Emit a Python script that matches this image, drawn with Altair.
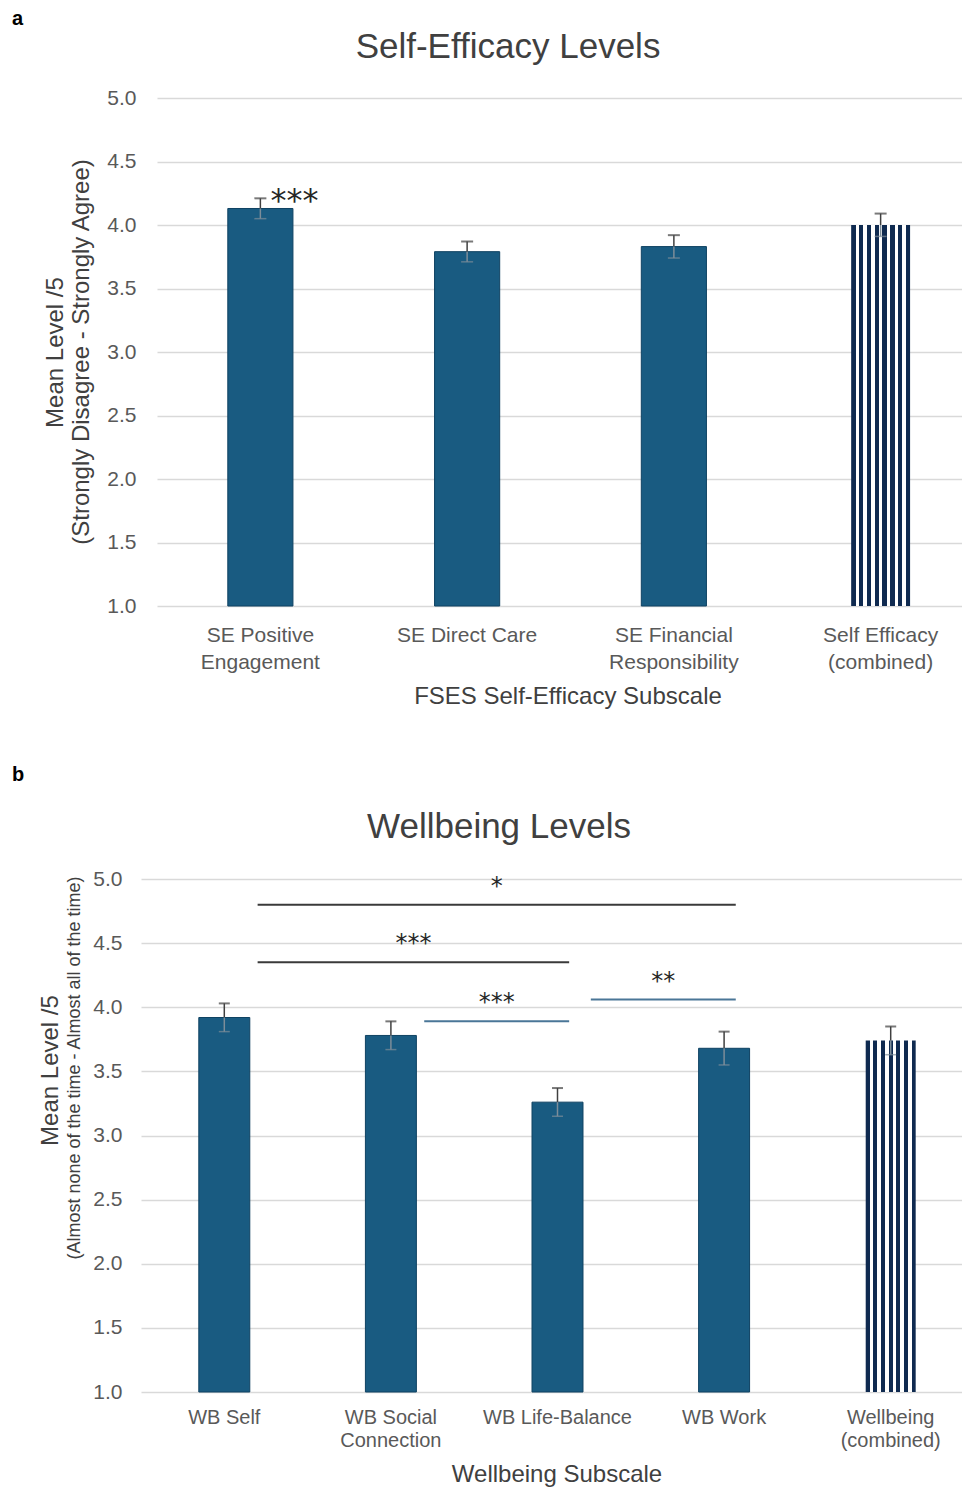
import altair as alt
import pandas as pd

FONT = "Liberation Sans"
STAR_FONT = "DejaVu Sans"

# ---------------- data ----------------
se_cats = ["SE Positive|Engagement", "SE Direct Care", "SE Financial|Responsibility", "Self Efficacy|(combined)"]
se_means = [4.13, 3.79, 3.83, 4.00]
se_errs = [0.08, 0.08, 0.09, 0.09]
se_combined = [False, False, False, True]
se_stars = ["***", "", "", ""]

wb_cats = ["WB Self", "WB Social|Connection", "WB Life-Balance", "WB Work", "Wellbeing|(combined)"]
wb_means = [3.92, 3.78, 3.26, 3.68, 3.74]
wb_errs = [0.11, 0.11, 0.11, 0.13, 0.11]
wb_combined = [False, False, False, False, True]

sig_from = ["WB Self", "WB Self", "WB Life-Balance", "WB Social|Connection"]
sig_to = ["WB Work", "WB Life-Balance", "WB Work", "WB Life-Balance"]
sig_y = [4.80, 4.35, 4.06, 3.89]
sig_stars = ["*", "***", "**", "***"]
sig_group = ["dark", "dark", "blue", "blue"]

y_ticks = [1.0, 1.5, 2.0, 2.5, 3.0, 3.5, 4.0, 4.5, 5.0]

# ---------------- style ----------------
BAR = "#195b81"
BAR_STROKE = "#0f4262"
NAVY = "#0f2a50"
GRID = "#d9d9d9"
TXT = "#404040"
LBL = "#595959"
ERR_DARK = "#404040"
ERR_LIGHT = "#7d8d99"


def stripes(n_dark, d, w):
    total = n_dark * d + (n_dark - 1) * w
    stops = []
    pos = 0.0
    for i in range(n_dark):
        a = pos / total
        pos += d
        b = pos / total
        stops += [alt.GradientStop(offset=a, color=NAVY), alt.GradientStop(offset=b, color=NAVY)]
        if i < n_dark - 1:
            pos += w
            c = pos / total
            stops += [alt.GradientStop(offset=b, color="white"), alt.GradientStop(offset=c, color="white")]
    return alt.Gradient(gradient="linear", x1=0, x2=1, y1=0, y2=0, stops=stops)


def make_df(cats, means, errs, combined):
    df = pd.DataFrame({"cat": cats, "mean": means, "err": errs, "combined": combined})
    df["hi"] = df["mean"] + df["err"]
    df["lo"] = df["mean"] - df["err"]
    return df


def text_layer(txt, x, y, size, angle=0, bold=False, align="center", baseline="middle", color=TXT):
    return alt.Chart(pd.DataFrame({"t": [txt]})).mark_text(
        font=FONT, fontSize=size, fontWeight="bold" if bold else "normal", color=color,
        angle=angle, align=align, baseline=baseline
    ).encode(text="t:N", x=alt.value(x), y=alt.value(y))


def panel(df, cats, xrange, band, cband, n_stripes, stripe_d, stripe_w,
          y_title1, y_title_x, y_title_y, lab_size, lab_lh, lab_y, cap, ypad):
    xscale = alt.Scale(domain=cats, range=xrange, paddingInner=0, paddingOuter=0)
    yscale = alt.Scale(domain=[1, 5], nice=False, zero=False)
    xn = alt.X("cat:N", scale=xscale, axis=None)
    y_main = alt.Y("mean:Q", scale=yscale, title=y_title1,
                   axis=alt.Axis(values=y_ticks, format=".1f", labelFont=FONT, labelFontSize=21,
                                 labelColor=LBL, labelPadding=ypad, ticks=False, domain=False,
                                 gridColor=GRID, gridWidth=1.5, titleFont=FONT, titleFontSize=24,
                                 titleFontWeight="normal", titleColor=TXT, titleX=y_title_x,
                                 titleY=y_title_y, titleBaseline="middle", titleAlign="center"))

    base = alt.Chart(df)
    bars = base.transform_filter("!datum.combined").mark_bar(
        width={"band": band}, color=BAR, stroke=BAR_STROKE, strokeWidth=1
    ).encode(x=xn, y=y_main, y2=alt.datum(1))
    comb = base.transform_filter("datum.combined").mark_bar(
        width={"band": cband}, color=stripes(n_stripes, stripe_d, stripe_w)
    ).encode(x=xn, y=alt.Y("mean:Q", scale=yscale), y2=alt.datum(1))
    err_up = base.mark_rule(color=ERR_DARK, strokeWidth=1.5).encode(
        x=xn, y=alt.Y("mean:Q", scale=yscale), y2="hi:Q")
    err_lo = base.mark_rule(color=ERR_LIGHT, strokeWidth=1.5).encode(
        x=xn, y=alt.Y("lo:Q", scale=yscale), y2="mean:Q")
    cap_up = base.mark_tick(color=ERR_DARK, size=cap, thickness=2).encode(
        x=xn, y=alt.Y("hi:Q", scale=yscale))
    cap_lo = base.mark_tick(color=ERR_LIGHT, size=cap, thickness=1.5).encode(
        x=xn, y=alt.Y("lo:Q", scale=yscale))
    labels = base.mark_text(
        font=FONT, fontSize=lab_size, color=LBL, lineBreak="|", lineHeight=lab_lh,
        align="center", baseline="top"
    ).encode(x=xn, y=alt.value(lab_y), text="cat:N")
    return [bars, comb, err_up, err_lo, cap_up, cap_lo, labels], xscale, yscale, xn


PLOT_LEFT = 150
A_TOP = 98
B_TOP = 879

# ---------- panel a ----------
se_df = make_df(se_cats, se_means, se_errs, se_combined)
se_df["star"] = se_stars
layers_a, xs_a, ys_a, xn_a = panel(
    se_df, se_cats, [7, 834], 0.315, 0.285, 8, 4.5, 3.4,
    "Mean Level /5", 55 - PLOT_LEFT, 254, 21, 27, 625 - A_TOP, 12, 14)
star_a = alt.Chart(se_df).transform_filter("datum.star != ''").mark_text(
    font=STAR_FONT, fontSize=32, color="#262626", align="left", baseline="alphabetic", dx=10, dy=13
).encode(x=xn_a, y=alt.Y("hi:Q", scale=ys_a), text="star:N")

chart_a = alt.layer(
    *layers_a, star_a,
    text_layer("a", 12 - PLOT_LEFT, 19 - A_TOP, 20, bold=True, align="left", color="black"),
    text_layer("Self-Efficacy Levels", 508 - PLOT_LEFT, 47 - A_TOP, 35),
    text_layer("(Strongly Disagree - Strongly Agree)", 82 - PLOT_LEFT, 254, 24, angle=270),
    text_layer("FSES Self-Efficacy Subscale", 568 - PLOT_LEFT, 697 - A_TOP, 24),
).properties(width=812, height=508)

# ---------- panel b ----------
wb_df = make_df(wb_cats, wb_means, wb_errs, wb_combined)
B_RANGE = [-9, 824]
layers_b, xs_b, ys_b, xn_b = panel(
    wb_df, wb_cats, B_RANGE, 0.306, 0.30, 7, 4.0, 3.7,
    "Mean Level /5", 50 - PLOT_LEFT, 191, 20, 23, 1408 - B_TOP, 11, 28)

idx = {c: i for i, c in enumerate(wb_cats)}
sig_df = pd.DataFrame({
    "x1": [idx[c] + 0.7 for c in sig_from],
    "x2": [idx[c] + 0.57 for c in sig_to],
    "y": sig_y, "star": sig_stars, "grp": sig_group,
})
qx = alt.Scale(domain=[0, len(wb_cats)], range=B_RANGE, nice=False, zero=False)
sig_color = alt.Scale(domain=["dark", "blue"], range=["#3a3a3a", "#4a7697"])
sig_lines = alt.Chart(sig_df).mark_rule(strokeWidth=2).encode(
    x=alt.X("x1:Q", scale=qx, axis=None), x2="x2:Q",
    y=alt.Y("y:Q", scale=ys_b),
    color=alt.Color("grp:N", scale=sig_color, legend=None))
sig_text = alt.Chart(sig_df).transform_calculate(xm="(datum.x1 + datum.x2) / 2").mark_text(
    font=STAR_FONT, fontSize=24, color="#262626", align="center", baseline="alphabetic", dy=-11
).encode(x=alt.X("xm:Q", scale=qx, axis=None), y=alt.Y("y:Q", scale=ys_b),
         text="star:N")

cat_group_b = alt.layer(
    *layers_b,
    text_layer("b", 12 - PLOT_LEFT, 775 - B_TOP, 20, bold=True, align="left", color="black"),
    text_layer("Wellbeing Levels", 499 - PLOT_LEFT, 827 - B_TOP, 35),
    text_layer("(Almost none of the time - Almost all of the time)", 75 - PLOT_LEFT, 189, 18, angle=270),
    text_layer("Wellbeing Subscale", 557 - PLOT_LEFT, 1475 - B_TOP, 24),
)
sig_group_b = alt.layer(sig_lines, sig_text)
chart_b = alt.layer(cat_group_b, sig_group_b).resolve_scale(x="independent").properties(
    width=812, height=513)

chart = alt.vconcat(chart_a, chart_b, spacing=56).properties(
    padding={"left": 4, "top": 1, "right": 0, "bottom": 0}
).configure_view(stroke=None)

chart.save("out.html", embed_options={"renderer": "svg", "actions": False})
